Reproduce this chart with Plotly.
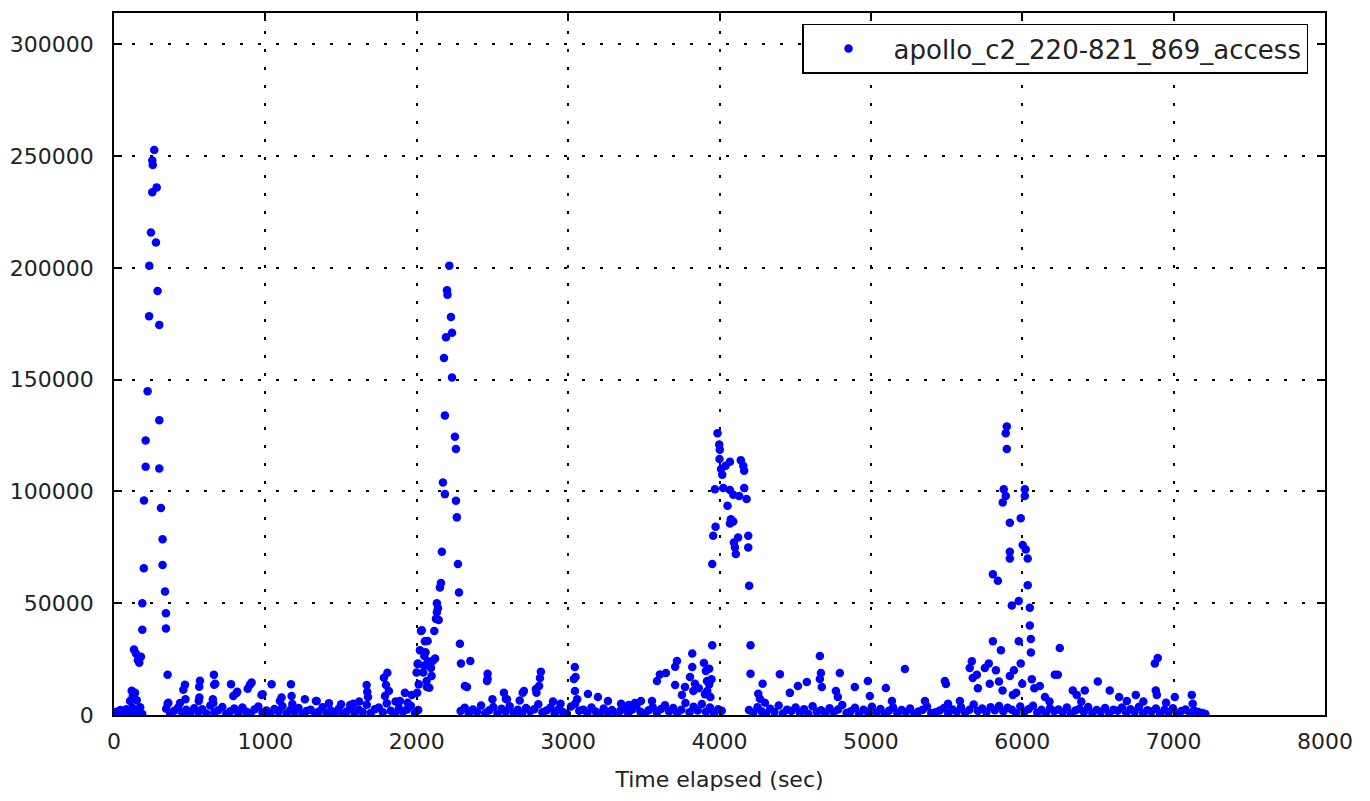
import plotly.graph_objects as go

# baseline traffic (small values, sampled along the whole run)
t_base_a = [4, 17, 30, 43, 56, 69, 82, 95, 108, 121, 134, 147, 160, 173, 186]
v_base_a = [400, 1500, 700, 2200, 300, 1100, 2600, 900, 1800, 3200, 600, 2400, 1300, 3500, 500]

t_base_b = [345, 371, 398, 424, 451, 477, 504, 530, 557, 583,
            610, 636, 663, 689, 716, 742, 769, 795, 822, 848,
            875, 901, 928, 954, 981, 1007, 1034, 1060, 1087, 1113,
            1140, 1166, 1193, 1219, 1246, 1272, 1299, 1325, 1352, 1378,
            1405, 1431, 1458, 1484, 1511, 1537, 1564, 1590, 1617, 1643,
            1670, 1696, 1723, 1749, 1776, 1802, 1829, 1855, 1882, 1908,
            1935, 1961, 1988, 2010]
v_base_b = [2800, 600, 1900, 3400, 900, 2300, 400, 3000, 1500, 2600,
            700, 4200, 1200, 2100, 3600, 500, 1700, 2900, 800, 3300,
            1400, 600, 2500, 3800, 1000, 2000, 300, 2700, 1600, 3900,
            700, 2200, 1300, 3100, 500, 1800, 2400, 900, 1500, 3500,
            600, 2000, 1100, 2700, 400, 1600, 3200, 800, 2300, 1300,
            4600, 900, 2600, 3400, 1200, 5200, 1900, 700, 3000, 1500,
            2500, 4100, 1000, 2200]

t_base_c = [2290, 2317, 2344, 2371, 2398, 2425, 2452, 2479, 2506, 2533,
            2560, 2587, 2614, 2641, 2668, 2695, 2722, 2749, 2776, 2803,
            2830, 2857, 2884, 2911, 2938, 2965, 2992, 3019, 3046, 3073,
            3100, 3127, 3154, 3181, 3208, 3235, 3262, 3289, 3316, 3343,
            3370, 3397, 3424, 3451, 3478, 3505, 3532, 3559, 3586, 3613,
            3640, 3667, 3694, 3721, 3748, 3775, 3802, 3829, 3856, 3883,
            3910, 3937, 3964, 3991, 4015]
v_base_c = [1800, 3200, 700, 2500, 1400, 4300, 900, 2100, 3600, 600,
            2800, 1500, 3900, 1000, 2300, 500, 3100, 1700, 2600, 4800,
            1200, 2000, 3400, 800, 2700, 1300, 600, 3800, 5000, 1900,
            2400, 900, 3300, 1600, 700, 2900, 1100, 2200, 500, 1800,
            3000, 800, 2500, 4000, 1400, 700, 2100, 3500, 1000, 2700,
            4400, 1600, 3100, 900, 2300, 5400, 1200, 3700, 2000, 4900,
            1500, 3300, 800, 2600, 1900]

t_base_d = [4195, 4223, 4251, 4279, 4307, 4335, 4363, 4391, 4419, 4447,
            4475, 4503, 4531, 4559, 4587, 4615, 4643, 4671, 4699, 4727,
            4755, 4783, 4811, 4839, 4867, 4895, 4923, 4951, 4979, 5007,
            5035, 5063, 5091, 5119, 5147, 5175, 5203, 5231, 5259, 5287,
            5315, 5343, 5371, 5399, 5427, 5455, 5483, 5511, 5539, 5567,
            5595, 5623, 5651, 5679, 5707, 5735, 5763, 5791, 5819, 5847,
            5875, 5903, 5931, 5959, 5987, 6015, 6043, 6071, 6099, 6127,
            6155, 6183, 6211, 6239, 6267, 6295, 6323, 6351, 6379, 6407,
            6435, 6463, 6491, 6519, 6547, 6575, 6603, 6631, 6659, 6687,
            6715, 6743, 6771, 6799, 6827, 6855, 6883, 6911, 6939, 6967,
            6995, 7023, 7051, 7079, 7107, 7135, 7163, 7191, 7210]
v_base_d = [2200, 900, 3500, 1600, 600, 2800, 1300, 4200, 700, 2400,
            1800, 3300, 1000, 2600, 500, 3900, 1500, 2100, 800, 3000,
            1200, 2500, 4500, 900, 1700, 3200, 600, 2300, 1400, 3700,
            1000, 2700, 500, 1900, 3400, 800, 2200, 1300, 2900, 600,
            1600, 2400, 3800, 900, 1200, 2000, 3100, 700, 2500, 1500,
            3600, 1000, 2300, 4700, 1800, 2900, 1200, 3500, 2100, 4000,
            1600, 3200, 2400, 900, 3800, 1500, 2700, 4100, 1100, 2300,
            800, 3000, 1700, 2500, 1200, 3400, 600, 2000, 2800, 1300,
            3600, 900, 2200, 1500, 3100, 700, 2400, 1900, 3300, 1000,
            2600, 1400, 3700, 800, 2100, 1600, 2900, 500, 2300, 1200,
            3000, 900, 1800, 2500, 700, 2000, 1300, 900, 400]

# burst 1 (~0-350 s)
t_peak1 = [106, 117, 124, 132, 139, 145, 150, 158, 167, 178,
           187, 187, 197, 198, 209, 209, 222, 232, 233, 244,
           253, 253, 256, 266, 277, 282, 288, 299, 299, 299,
           310, 321, 321, 337, 343, 343, 354, 354]
v_peak1 = [6300, 10800, 8500, 29300, 9900, 27500, 6650, 24500, 23400, 26100,
           50000, 38100, 65600, 95900, 122800, 111000, 144800, 178400, 200900, 215800,
           233800, 248000, 246000, 252700, 211300, 236000, 189700, 174500, 131800, 110300,
           92600, 78600, 67100, 55200, 45500, 38700, 18000, 5000]

t_low1 = [359, 436, 458, 469, 472, 560, 563, 568, 564, 653,
          656, 660, 662, 669, 773, 788, 810, 814, 883, 898,
          909, 975, 982, 1041, 1096, 1107, 1169, 1173, 1178, 1261,
          1334, 1339, 1420, 1500, 1560, 1581, 1620, 1669, 1673, 1678,
          1783, 1797, 1790, 1816, 1806, 1889, 1922, 1968, 1940, 1860]
v_low1 = [5500, 5400, 11300, 13500, 7000, 6300, 12600, 15300, 7800, 7000,
          5400, 18000, 13500, 14000, 13800, 8500, 9900, 10400, 11700, 13500,
          14500, 9000, 9300, 13800, 6300, 7800, 13800, 8500, 4900, 7000,
          6300, 6300, 5200, 4800, 4500, 5000, 6000, 13400, 10400, 8000,
          16700, 13400, 8500, 10700, 18900, 6300, 9900, 9000, 5500, 6000]

# burst 2 (~2000-2300 s)
t_peak2 = [1999, 2003, 2006, 2008, 2013, 2021, 2028, 2033, 2043, 2048,
           2050, 2054, 2058, 2065, 2067, 2072, 2074, 2083, 2087, 2094,
           2098, 2105, 2116, 2121, 2127, 2133, 2133, 2140, 2145, 2153,
           2160, 2166, 2173, 2180, 2186, 2186, 2193, 2200, 2203, 2215,
           2226, 2233, 2233, 2252, 2259, 2259, 2265, 2272, 2279, 2285,
           2292, 2354, 2332, 2318]
v_peak2 = [19000, 10000, 22800, 23000, 13700, 29000, 37600, 37900, 19000, 22000,
           26400, 33000, 28100, 15200, 12500, 33100, 24000, 12200, 22000, 21000,
           17500, 24200, 37600, 25300, 43000, 46000, 50000, 47800, 42500, 57000,
           59000, 73000, 104000, 159700, 134000, 98800, 169000, 190000, 188000, 201000,
           178000, 171000, 151000, 124500, 119000, 95800, 88400, 67500, 54800, 31900,
           23000, 24200, 12500, 13000]

t_low2 = [2468, 2468, 2464, 2500, 2576, 2589, 2596, 2680, 2700, 2708,
          2787, 2791, 2808, 2814, 2820, 2900, 2950, 3038, 3044, 3045,
          3049, 3060, 3131, 3197, 3263, 3350, 3400, 3441, 3481, 3554,
          3587, 3606, 3646, 3707, 3707, 3719, 3752, 3772, 3805, 3820,
          3820, 3827, 3838, 3863, 3897, 3904, 3910, 3917, 3919, 3932,
          3932, 3940, 3947]
v_low2 = [18400, 16100, 15200, 7000, 10000, 7200, 7000, 6500, 10000, 10700,
          11600, 10000, 13000, 16500, 19300, 6000, 5000, 16100, 21500, 10700,
          17000, 7000, 9400, 8000, 6300, 5000, 4500, 5400, 6300, 6300,
          15200, 18100, 18800, 21600, 13400, 24200, 9000, 12500, 17000, 27500,
          21500, 10700, 14000, 12000, 23300, 9300, 19700, 15200, 10700, 20700,
          13700, 8000, 16000]

# burst 3 (~3950-4210 s)
t_peak3 = [3952, 3952, 3958, 3970, 3974, 3987, 3998, 4002, 4000, 4010,
           4018, 4025, 4040, 4053, 4069, 4069, 4069, 4075, 4091, 4091,
           4095, 4102, 4108, 4123, 4130, 4141, 4157, 4163, 4163, 4179,
           4190, 4190, 4196, 4205, 4205]
v_peak3 = [67500, 31200, 80200, 101000, 84200, 126000, 121000, 118700, 114500, 110000,
           107500, 101500, 111500, 93600, 113300, 100600, 85700, 87600, 98500, 86500,
           77200, 74900, 72000, 79400, 98000, 114000, 111500, 109300, 101500, 96600,
           80200, 74900, 57800, 31200, 18500]

t_low3 = [4256, 4267, 4285, 4300, 4399, 4465, 4518, 4577, 4663, 4670,
          4663, 4676, 4769, 4782, 4795, 4894, 4980, 4993, 5099, 5139,
          5225, 5357, 5489, 5496, 5510, 5588]
v_low3 = [9500, 7300, 14000, 5500, 18200, 9900, 13000, 14800, 26400, 18800,
          16100, 12500, 10700, 8000, 18800, 12500, 15200, 8500, 12100, 6300,
          20600, 6300, 15200, 13900, 5000, 6300]

# burst 4 (~5650-6250 s)
t_peak4 = [5653, 5667, 5673, 5700, 5707, 5753, 5779, 5785, 5806, 5806,
           5826, 5839, 5846, 5859, 5870, 5871, 5878, 5891, 5891, 5898,
           5898, 5918, 5918, 5918, 5918, 5931, 5938, 5945, 5960, 5977,
           5977, 5990, 5990, 6000, 6003, 6017, 6017, 6023, 6036, 6036,
           6050, 6050, 6057, 6057, 6063, 6080, 6116, 6150, 6180, 6215,
           6235, 6248]
v_peak4 = [21000, 24000, 16500, 18000, 12000, 21000, 23000, 14000, 63000, 33000,
           20000, 60000, 15000, 29000, 11000, 95000, 101000, 126000, 98000, 129000,
           119000, 86000, 73000, 70000, 17500, 49000, 9000, 20000, 10000, 51000,
           33000, 88000, 23000, 14000, 76000, 101000, 98000, 74000, 70000, 58000,
           48000, 40000, 34000, 28000, 16000, 12000, 13000, 8000, 6000, 18000,
           18000, 30000]

t_low4 = [6334, 6360, 6390, 6413, 6499, 6578, 6640, 6691, 6750, 6800,
          6876, 6882, 6889, 6895, 6950, 7008, 7120, 7126]
v_low4 = [11000, 9000, 6000, 11000, 15000, 11000, 8000, 6300, 9000, 6000,
          23000, 11000, 9000, 25500, 5500, 8000, 9000, 5000]

x_ticks = [0, 1000, 2000, 3000, 4000, 5000, 6000, 7000, 8000]
y_ticks = [0, 50000, 100000, 150000, 200000, 250000, 300000]

times = (t_base_a + t_base_b + t_base_c + t_base_d + t_peak1 + t_low1 + t_peak2
         + t_low2 + t_peak3 + t_low3 + t_peak4 + t_low4)
values = (v_base_a + v_base_b + v_base_c + v_base_d + v_peak1 + v_low1 + v_peak2
          + v_low2 + v_peak3 + v_low3 + v_peak4 + v_low4)

font = 'DejaVu Sans'
fig = go.Figure()
fig.add_trace(go.Scatter(x=times, y=values, mode='markers',
                         name='apollo_c2_220-821_869_access',
                         marker=dict(color='#0000ff', size=8.5, line=dict(width=0)),
                         showlegend=True))

axis_style = dict(showline=True, linecolor='black', linewidth=1.6, mirror='ticks',
                  ticks='inside', ticklen=8, tickwidth=1.6, tickcolor='black',
                  showgrid=True, gridcolor='black', gridwidth=1.7, griddash='3px,15px',
                  zeroline=False, tickfont=dict(family=font, size=22, color='#222'))

fig.update_xaxes(range=[0, 8000], tickvals=x_ticks, ticklabelstandoff=6,
                 title=dict(text='Time elapsed (sec)', standoff=18,
                            font=dict(family=font, size=22, color='#222')),
                 **axis_style)
fig.update_yaxes(range=[0, 314000], tickvals=y_ticks, tickformat='d',
                 ticklabelstandoff=14, **axis_style)

# the page adds an 8px body margin, so the margins are shifted to compensate
fig.update_layout(width=1370, height=801,
                  margin=dict(l=106, r=53, t=5, b=94, autoexpand=False),
                  paper_bgcolor='white', plot_bgcolor='white',
                  font=dict(family=font, color='#222'),
                  legend=dict(x=0.986, y=0.985, xanchor='right', yanchor='top',
                              bgcolor='white', bordercolor='black', borderwidth=1.5,
                              font=dict(family=font, size=26, color='#222'),
                              itemwidth=80),
                  showlegend=True)

fig.write_html("out.html")
